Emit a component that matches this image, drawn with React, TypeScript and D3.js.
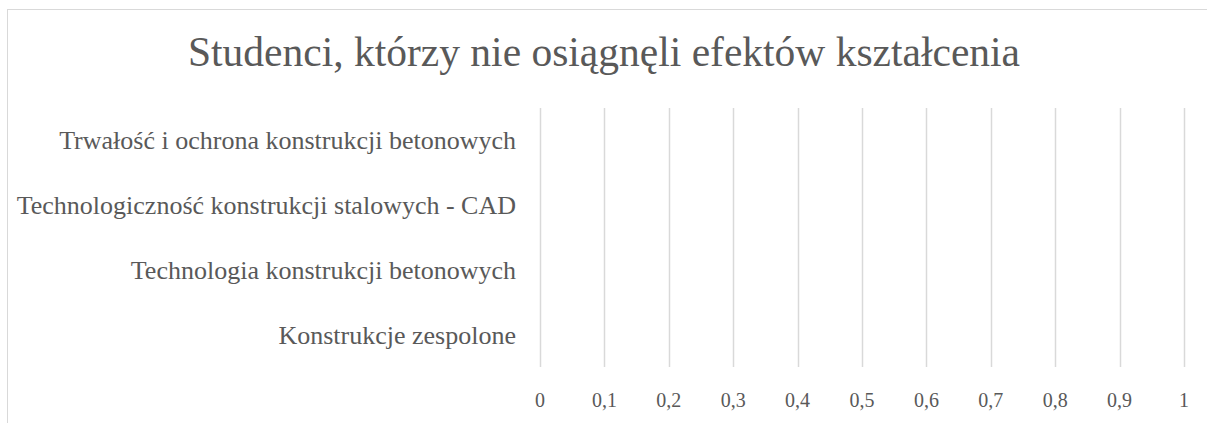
import React from "react";
import * as d3 from "d3";

const categories = [
  "Trwałość i ochrona konstrukcji betonowych",
  "Technologiczność konstrukcji stalowych - CAD",
  "Technologia konstrukcji betonowych",
  "Konstrukcje zespolone",
];
const values = [0, 0, 0, 0];
const xTicks = [0, 0.1, 0.2, 0.3, 0.4, 0.5, 0.6, 0.7, 0.8, 0.9, 1];
const title = "Studenci, którzy nie osiągnęli efektów kształcenia";

const W = 1207;
const H = 423;
const FONT = "'Liberation Serif', 'DejaVu Serif', serif";

export default function App() {
  const x = d3.scaleLinear().domain([0, 1]).range([540, 1184]);
  const y = d3.scaleBand().domain(categories).range([108, 367]).paddingInner(0.5).paddingOuter(0.25);
  const fmt = (v: number) => String(v).replace(".", ",");
  return (
    <svg width={W} height={H} style={{ position: "absolute", left: 0, top: 0 }}>
      <rect x={0} y={0} width={W} height={H} fill="#fff" />
      <rect x={7.5} y={9.5} width={W + 20} height={H + 20} fill="none" stroke="#d9d9d9" strokeWidth={1} />
      <text x={604} y={66} textAnchor="middle" fontFamily={FONT} fontSize={41.5} fill="#595959">
        {title}
      </text>
      {xTicks.map((t) => (
        <line key={t} x1={Math.round(x(t)) + 0.5} x2={Math.round(x(t)) + 0.5} y1={108} y2={367} stroke="#d9d9d9" strokeWidth={1.5} />
      ))}
      {categories.map((c, i) => (
        <rect key={c} x={x(0)} y={y(c)} width={x(values[i]) - x(0)} height={y.bandwidth()} fill="#4472c4" />
      ))}
      {categories.map((c) => (
        <text key={c} x={516} y={(y(c) ?? 0) + y.bandwidth() / 2} dy="0.35em" textAnchor="end" fontFamily={FONT} fontSize={26} fill="#595959">
          {c}
        </text>
      ))}
      {xTicks.map((t) => (
        <text key={t} x={x(t)} y={407} textAnchor="middle" fontFamily={FONT} fontSize={20} fill="#595959">
          {fmt(t)}
        </text>
      ))}
    </svg>
  );
}
